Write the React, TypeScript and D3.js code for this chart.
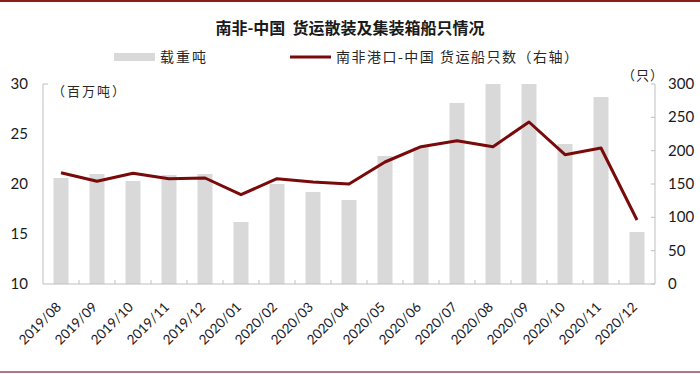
import React from "react";
import * as d3 from "d3";

const categories = ["2019/08","2019/09","2019/10","2019/11","2019/12","2020/01","2020/02","2020/03","2020/04","2020/05","2020/06","2020/07","2020/08","2020/09","2020/10","2020/11","2020/12"];
const tonnage = [20.6,21.0,20.3,20.9,21.0,16.2,20.0,19.2,18.4,22.8,23.7,28.1,30.0,30.0,24.0,28.7,15.2];
const ships = [167,154,166,158,159,134,158,153,150,183,206,215,206,243,194,204,96];
const leftTicks = [10,15,20,25,30];
const rightTicks = [0,50,100,150,200,250,300];

const W = 700, H = 374;
const L = 43, R = 655, T = 84, B = 284;
const NUM_FONT = "Lato, 'Open Sans', sans-serif";
const CJK_FONT = "'Noto Sans CJK SC', sans-serif";

export default function App() {
  const x = d3.scaleBand<string>().domain(categories).range([L, R]).paddingInner(0).paddingOuter(0);
  const yL = d3.scaleLinear().domain([10, 30]).range([B, T]);
  const yR = d3.scaleLinear().domain([0, 300]).range([B, T]);
  const bw = 15;
  const line = d3.line<number>()
    .x((_, i) => (x(categories[i]) as number) + x.bandwidth() / 2)
    .y((d) => yR(d));
  const axisColor = "#bfbfbf";
  return (
    <svg width={W} height={H} style={{ position: "absolute", left: 0, top: 0, background: "#fff" }}>
      <rect x={0} y={0} width={W} height={2} fill="#8b1c1c" />
      <rect x={0} y={371} width={W} height={2} fill="#b37580" />
      <text x={350} y={34} textAnchor="middle" fontFamily={CJK_FONT} fontWeight="bold" fontSize={16} fill="#1a1a1a" xmlSpace="preserve" style={{ whiteSpace: "pre" }}>南非-中国  货运散装及集装箱船只情况</text>
      {/* legend */}
      <rect x={114} y={53} width={41} height={8} fill="#d9d9d9" />
      <text x={160} y={62} fontFamily={CJK_FONT} fontSize={14} fill="#262626" letterSpacing={2}>载重吨</text>
      <line x1={290} x2={331} y1={57} y2={57} stroke="#7a0a0a" strokeWidth={3} />
      <text x={336} y={62} fontFamily={CJK_FONT} fontSize={14} fill="#262626" letterSpacing={1.5}>南非港口-中国 货运船只数（右轴）</text>
      {/* bars */}
      {tonnage.map((v, i) => {
        const cx = (x(categories[i]) as number) + x.bandwidth() / 2;
        return <rect key={i} x={cx - bw / 2} y={yL(v)} width={bw} height={B - yL(v)} fill="#d9d9d9" />;
      })}
      {/* axes */}
      <line x1={L} x2={L} y1={T} y2={B} stroke={axisColor} strokeWidth={1} />
      <line x1={L} x2={L + 5} y1={T} y2={T} stroke={axisColor} strokeWidth={1} />
      <line x1={R} x2={R} y1={T} y2={B} stroke={axisColor} strokeWidth={1} />
      {rightTicks.map((t) => (
        <line key={t} x1={R - 4} x2={R} y1={yR(t)} y2={yR(t)} stroke={axisColor} strokeWidth={1} />
      ))}
      <line x1={L} x2={R} y1={B} y2={B} stroke={axisColor} strokeWidth={1} />
      {categories.map((c, i) => {
        const xx = (x(c) as number);
        return i === 0 ? null : <line key={c} x1={xx} x2={xx} y1={B} y2={B - 4} stroke={axisColor} strokeWidth={1} />;
      })}
      {/* line */}
      <path d={line(ships) as string} fill="none" stroke="#7a0a0a" strokeWidth={3} strokeLinejoin="round" />
      {/* tick labels */}
      {leftTicks.map((t) => (
        <text key={t} x={28} y={yL(t) + 5} textAnchor="end" fontFamily={NUM_FONT} fontSize={15} fill="#1a1a1a">{t}</text>
      ))}
      {rightTicks.map((t) => (
        <text key={t} x={668} y={yR(t) + 5} textAnchor="start" fontFamily={NUM_FONT} fontSize={15} fill="#1a1a1a">{t}</text>
      ))}
      {categories.map((c) => {
        const cx = (x(c) as number) + x.bandwidth() / 2;
        const ax = cx + 1, ay = 308;
        return (
          <text key={c} x={ax} y={ay} transform={`rotate(-45 ${ax} ${ay})`} textAnchor="end" fontFamily={NUM_FONT} fontSize={13.5} fill="#1a1a1a">{c}</text>
        );
      })}
      <text x={52} y={96} fontFamily={CJK_FONT} fontSize={13} fill="#262626" letterSpacing={2}>（百万吨）</text>
      <text x={664} y={80} textAnchor="end" fontFamily={CJK_FONT} fontSize={13} fill="#262626" letterSpacing={1}>（只）</text>
    </svg>
  );
}
